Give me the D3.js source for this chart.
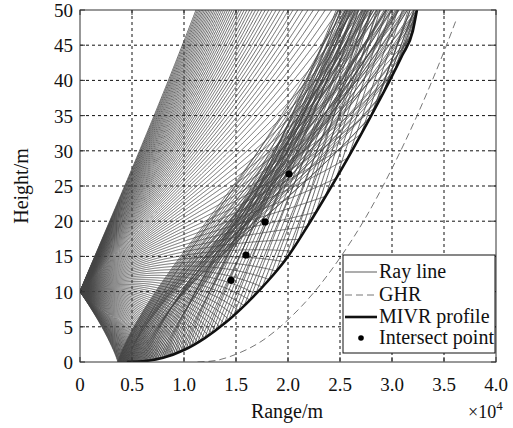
<!DOCTYPE html>
<html><head><meta charset="utf-8">
<script src="https://cdn.jsdelivr.net/npm/d3@7"></script>
<style>
html,body{margin:0;padding:0;background:#fff;}
svg{display:block;font-family:"Liberation Serif","Times New Roman",serif;}
</style></head>
<body>
<svg id="chart" width="513" height="428"></svg>
<script>
// ---------------- data ----------------
// ray launch elevation angles at the 10 m source (mrad)
const launchAnglesMrad = [-2.20,-2.16,-2.12,-2.08,-2.04,-2.00,-1.96,-1.92,-1.88,-1.84,-1.80,-1.76,-1.72,-1.68,-1.64,-1.60,-1.56,-1.52,-1.48,-1.44,-1.40,-1.36,-1.32,-1.28,-1.24,-1.20,-1.16,-1.12,-1.08,-1.04,-1.00,-0.96,-0.92,-0.88,-0.84,-0.80,-0.76,-0.72,-0.68,-0.64,-0.60,-0.56,-0.52,-0.48,-0.44,-0.40,-0.36,-0.32,-0.28,-0.24,-0.20,-0.16,-0.12,-0.08,-0.04,0.00,0.04,0.08,0.12,0.16,0.20,0.24,0.28,0.32,0.36,0.40,0.44,0.48,0.52,0.56,0.60,0.64,0.68,0.72,0.76,0.80,0.84,0.88,0.92,0.96,1.00,1.04,1.08,1.12,1.16,1.20,1.24,1.28,1.32,1.36,1.40,1.44,1.48,1.52,1.56,1.60,1.64,1.68,1.72,1.76,1.80,1.84,1.88,1.92,1.96,2.00,2.04,2.08,2.12,2.16,2.20,2.24,2.28,2.32,2.36,2.40,2.44,2.48,2.52,2.56,2.60,2.64,2.68,2.72,2.76,2.80,2.84,2.88,2.92,2.96,3.00,3.04,3.08,3.12,3.16,3.20,3.24,3.28,3.32,3.36,3.40,3.44,3.48,3.52,3.56,3.60];
const sourceHeight = [10];          // m
const ductHeight = [20];            // evaporation duct height, m
const roughness = [1.5e-4];         // m
const mGradient = [0.125];          // M-units per m

// MIVR profile (range m, height m)
const mivrRange  = [4500, 6000, 8000, 10000, 12000, 14000, 16000, 18000, 20000, 22000, 24000, 26000, 28000, 30000, 31000, 32000, 32400];
const mivrHeight = [0, 0.1, 0.6, 1.7, 3.4, 5.6, 8.3, 11.4, 15.0, 19.6, 24.5, 29.6, 35.0, 40.6, 43.6, 47.0, 50];

// GHR (geometric horizon ray)
const ghrRange  = [11300, 13000, 15000, 17500, 20000, 22500, 25000, 27500, 30000, 32500, 35000, 36200];
const ghrHeight = [0, 0.2, 1.1, 3.0, 6.0, 9.9, 14.8, 20.6, 27.5, 35.3, 44.1, 48.7];

// intersect points
const pointRange  = [14520, 15960, 17790, 20100];
const pointHeight = [11.6, 15.2, 19.9, 26.7];

// axes
const xTickValues = [0, 5000, 10000, 15000, 20000, 25000, 30000, 35000, 40000];
const xTickLabels = ["0", "0.5", "1.0", "1.5", "2.0", "2.5", "3.0", "3.5", "4.0"];
const yTickValues = [0, 5, 10, 15, 20, 25, 30, 35, 40, 45, 50];
const legendLabels = ["Ray line", "GHR", "MIVR profile", "Intersect point"];

// ---------------- layout ----------------
const svg = d3.select("#chart");
const L = 80, R = 496, T = 10, B = 362;
const x = d3.scaleLinear().domain([0, 40000]).range([L, R]);
const y = d3.scaleLinear().domain([0, 50]).range([B, T]);

svg.append("defs").append("clipPath").attr("id", "plotclip")
  .append("rect").attr("x", L).attr("y", T).attr("width", R - L).attr("height", B - T);

// grid
const grid = svg.append("g");
xTickValues.slice(1, -1).forEach(v => grid.append("line")
  .attr("x1", x(v)).attr("x2", x(v)).attr("y1", T).attr("y2", B)
  .attr("stroke", "#111").attr("stroke-width", 1).attr("stroke-dasharray", "3,3"));
yTickValues.slice(1, -1).forEach(v => grid.append("line")
  .attr("x1", L).attr("x2", R).attr("y1", y(v)).attr("y2", y(v))
  .attr("stroke", "#111").attr("stroke-width", 1).attr("stroke-dasharray", "3,3"));

// ---------------- ray tracing (evaporation duct, reflections on ground / MIVR profile) ----------------
const mivrAt = (xx) => {
  for (let i = 1; i < mivrRange.length; i++) {
    if (xx <= mivrRange[i]) {
      const t = (xx - mivrRange[i-1]) / (mivrRange[i] - mivrRange[i-1]);
      return mivrHeight[i-1] + t * (mivrHeight[i] - mivrHeight[i-1]);
    }
  }
  return mivrHeight[mivrHeight.length - 1];
};
const mivrX0 = mivrRange[0], mivrX1 = mivrRange[mivrRange.length - 1];
const mivrSlope = (xx) => {
  const a = Math.max(mivrX0, xx - 300), b = Math.min(mivrX1, xx + 300);
  return (mivrAt(b) - mivrAt(a)) / (b - a);
};
const Mz = z => mGradient[0] * (z - ductHeight[0] * Math.log((Math.max(z, 0) + roughness[0]) / roughness[0]));
const dMdz = z => mGradient[0] * (1 - ductHeight[0] / (Math.max(z, 0) + roughness[0]));

function trace(thetaMrad) {
  let z = sourceHeight[0], xx = 0, th = thetaMrad * 1e-3;
  const pts = [[0, z]];
  let lastX = 0, guard = 0;
  while (xx < 40000 && z < 51 && guard++ < 400000) {
    let bend = false;
    if (z > 1.0) {
      const dx = 10;
      const c1 = 1e-6 * dMdz(z);
      const zm = z + th * dx / 2;
      const tm = th + c1 * dx / 2;
      const c2 = 1e-6 * dMdz(zm);
      z = z + tm * dx;
      th = th + c2 * dx;
      xx += dx;
    } else {
      const E = th * th / 2 - 1e-6 * Mz(z);
      const s = th >= 0 ? 1 : -1;
      const ang = zz => Math.sqrt(Math.max(2 * (E + 1e-6 * Mz(zz)), 1e-14));
      const a0 = ang(z);
      const dx = Math.max(0.02, Math.min(10, 0.05 * (z + 0.002) / a0));
      const zm = z + s * a0 * dx / 2;
      const am = ang(Math.abs(zm));
      z = z + s * am * dx;
      xx += dx;
      if (z < 0) { z = -z; bend = true; th = ang(z); }
      else th = s * ang(z);
    }
    if (xx >= mivrX0 && xx <= mivrX1) {
      const zb = mivrAt(xx);
      if (z < zb) {
        const m = mivrSlope(xx);
        th = Math.max(2 * m - th, m + 1e-5);
        z = zb + 1e-3;
        bend = true;
      }
    }
    if (bend || xx - lastX >= 60) { pts.push([xx, z]); lastX = xx; }
  }
  pts.push([xx, z]);
  return pts;
}

const line = d3.line().x(d => x(d[0])).y(d => y(d[1]));
const rays = svg.append("g").attr("clip-path", "url(#plotclip)");
launchAnglesMrad.forEach(a => {
  rays.append("path").attr("d", line(trace(a)))
    .attr("fill", "none").attr("stroke", "#444").attr("stroke-width", 0.8);
});

// GHR
const curve = d3.line().x(d => x(d[0])).y(d => y(d[1])).curve(d3.curveMonotoneX);
svg.append("path").attr("clip-path", "url(#plotclip)")
  .attr("d", curve(ghrRange.map((r, i) => [r, ghrHeight[i]])))
  .attr("fill", "none").attr("stroke", "#777").attr("stroke-width", 1)
  .attr("stroke-dasharray", "7,4");

// MIVR
svg.append("path").attr("clip-path", "url(#plotclip)")
  .attr("d", curve(mivrRange.map((r, i) => [r, mivrHeight[i]])))
  .attr("fill", "none").attr("stroke", "#111").attr("stroke-width", 2.6);

// points
svg.append("g").selectAll("circle").data(pointRange.map((r, i) => [r, pointHeight[i]]))
  .join("circle").attr("cx", d => x(d[0])).attr("cy", d => y(d[1])).attr("r", 3.6).attr("fill", "#000");

// ---------------- axes ----------------
svg.append("rect").attr("x", L).attr("y", T).attr("width", R - L).attr("height", B - T)
  .attr("fill", "none").attr("stroke", "#333").attr("stroke-width", 1);
const ticks = svg.append("g").attr("stroke", "#333").attr("stroke-width", 1);
xTickValues.forEach(v => {
  ticks.append("line").attr("x1", x(v)).attr("x2", x(v)).attr("y1", B).attr("y2", B - 5);
  ticks.append("line").attr("x1", x(v)).attr("x2", x(v)).attr("y1", T).attr("y2", T + 5);
});
yTickValues.forEach(v => {
  ticks.append("line").attr("x1", L).attr("x2", L + 5).attr("y1", y(v)).attr("y2", y(v));
  ticks.append("line").attr("x1", R).attr("x2", R - 5).attr("y1", y(v)).attr("y2", y(v));
});
xTickValues.forEach((v, i) => svg.append("text").attr("x", x(v)).attr("y", 391)
  .attr("text-anchor", "middle").attr("font-size", 19).attr("fill", "#111").text(xTickLabels[i]));
yTickValues.forEach(v => svg.append("text").attr("x", 73).attr("y", y(v) + 7)
  .attr("text-anchor", "end").attr("font-size", 19).attr("fill", "#111").text(v));

svg.append("text").attr("x", 287).attr("y", 418).attr("text-anchor", "middle")
  .attr("font-size", 20).attr("fill", "#111").text("Range/m");
svg.append("text").attr("transform", "translate(28,186) rotate(-90)").attr("text-anchor", "middle")
  .attr("font-size", 20).attr("fill", "#111").text("Height/m");
const mult = svg.append("text").attr("x", 468).attr("y", 418).attr("font-size", 18).attr("fill", "#111");
mult.append("tspan").text("×10");
mult.append("tspan").attr("dy", -8).attr("font-size", 13).text("4");

// ---------------- legend ----------------
const lg = svg.append("g");
lg.append("rect").attr("x", 343).attr("y", 255).attr("width", 152).attr("height", 98)
  .attr("fill", "#fff").attr("stroke", "#111").attr("stroke-width", 1);
const rowY = [272, 295, 317, 338];
lg.append("line").attr("x1", 345).attr("x2", 377).attr("y1", rowY[0]).attr("y2", rowY[0])
  .attr("stroke", "#777").attr("stroke-width", 1.2);
lg.append("line").attr("x1", 345).attr("x2", 377).attr("y1", rowY[1]).attr("y2", rowY[1])
  .attr("stroke", "#777").attr("stroke-width", 1).attr("stroke-dasharray", "7,4");
lg.append("line").attr("x1", 345).attr("x2", 377).attr("y1", rowY[2]).attr("y2", rowY[2])
  .attr("stroke", "#111").attr("stroke-width", 2.6);
lg.append("circle").attr("cx", 361).attr("cy", rowY[3]).attr("r", 2.8).attr("fill", "#000");
const lgClip = svg.select("defs").append("clipPath").attr("id", "lgclip");
lgClip.append("rect").attr("x", 343).attr("y", 255).attr("width", 152).attr("height", 98);
legendLabels.forEach((t, i) => lg.append("text").attr("clip-path", "url(#lgclip)")
  .attr("x", 379).attr("y", rowY[i] + 6).attr("font-size", 20).attr("fill", "#111").text(t));
</script>
</body></html>
